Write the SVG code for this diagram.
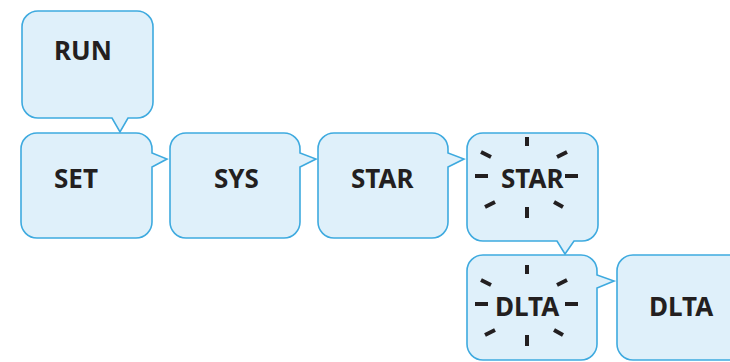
<svg xmlns="http://www.w3.org/2000/svg" width="730" height="362" viewBox="0 0 730 362">
<defs>
<style>
.b{fill:#dff0fa;stroke:#3eaadf;stroke-width:1.6;stroke-linejoin:miter}
.t{font-family:"Noto Sans","DejaVu Sans",sans-serif;font-weight:bold;font-size:26px;fill:#231f20}
.r{stroke:#231f20;stroke-width:4;stroke-linecap:butt;fill:none}
</style>
<g id="rays">
<line class="r" x1="527" y1="137" x2="527" y2="146"/>
<line class="r" x1="527" y1="207" x2="527" y2="218"/>
<line class="r" x1="475" y1="176" x2="488" y2="176"/>
<line class="r" x1="565" y1="176" x2="578" y2="176"/>
<line class="r" x1="481" y1="152" x2="491" y2="157"/>
<line class="r" x1="557" y1="157" x2="567" y2="152"/>
<line class="r" x1="485" y1="207" x2="495" y2="202"/>
<line class="r" x1="554" y1="202" x2="563" y2="207"/>
</g>
</defs>
<g id="connectors"></g>
<g id="run">
<path class="b" d="M38,11 H137 A16,16 0 0 1 153,27 V102 A16,16 0 0 1 137,118 H128 L120,132 L112,118 H38 A16,16 0 0 1 22,102 V27 A16,16 0 0 1 38,11 Z"/>
<text class="t" x="54" y="60">RUN</text>
</g>
<g id="set">
<path class="b" d="M37,133 H136 A16,16 0 0 1 152,149 V153 L167,159 L152,167 V222 A16,16 0 0 1 136,238 H37 A16,16 0 0 1 21,222 V149 A16,16 0 0 1 37,133 Z"/>
<text class="t" x="54" y="188">SET</text>
</g>
<g id="sys">
<path class="b" d="M186,133 H284 A16,16 0 0 1 300,149 V153 L316,159 L300,167 V222 A16,16 0 0 1 284,238 H186 A16,16 0 0 1 170,222 V149 A16,16 0 0 1 186,133 Z"/>
<text class="t" x="214" y="188">SYS</text>
</g>
<g id="star">
<path class="b" d="M334,133 H432 A16,16 0 0 1 448,149 V153 L464,159 L448,167 V222 A16,16 0 0 1 432,238 H334 A16,16 0 0 1 318,222 V149 A16,16 0 0 1 334,133 Z"/>
<text class="t" x="351" y="188">STAR</text>
</g>
<g id="star-flash">
<path class="b" d="M483,133 H582 A16,16 0 0 1 598,149 V225 A16,16 0 0 1 582,241 H574 L565,254 L557,241 H483 A16,16 0 0 1 467,225 V149 A16,16 0 0 1 483,133 Z"/>
<text class="t" x="501" y="188">STAR</text>
<use href="#rays"/>
</g>
<g id="dlta-flash">
<path class="b" d="M483,255 H581 A16,16 0 0 1 597,271 V275 L614,281 L597,288 V344 A16,16 0 0 1 581,360 H483 A16,16 0 0 1 467,344 V271 A16,16 0 0 1 483,255 Z"/>
<text class="t" x="495" y="316">DLTA</text>
<use href="#rays" transform="translate(0,128)"/>
</g>
<g id="dlta">
<path class="b" d="M633,255 H760 V360 H633 A16,16 0 0 1 617,344 V271 A16,16 0 0 1 633,255 Z"/>
<text class="t" x="649" y="316">DLTA</text>
</g>
</svg>
